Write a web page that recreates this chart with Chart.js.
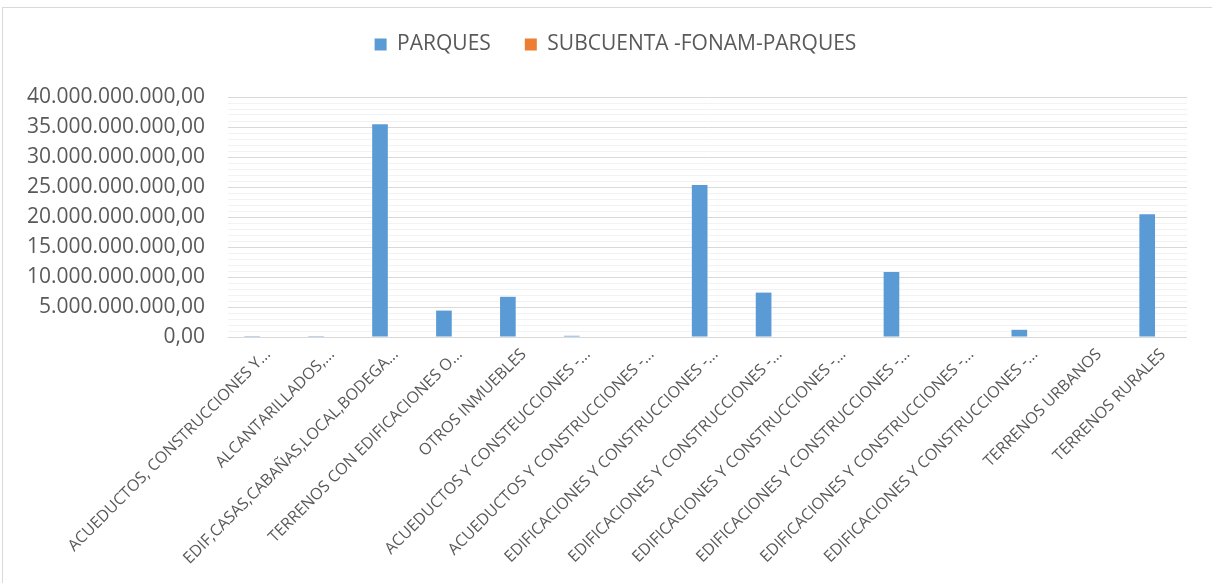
<!DOCTYPE html>
<html lang="es">
<head>
  <meta charset="UTF-8">
  <title>Parques</title>
  <script src="https://cdn.jsdelivr.net/npm/chart.js"></script>
  <style>
    body {
      margin: 0;
      background: #ffffff;
      font-family: 'Open Sans', sans-serif;
    }
    .frame {
      position: absolute;
      left: 2px;
      top: 7px;
      width: 1220px;
      height: 600px;
      border: 1px solid #d9d9d9;
    }
    .chart-box {
      position: absolute;
      left: 0;
      top: 0;
      width: 1212px;
      height: 583px;
    }
  </style>
</head>
<body>
  <div class="frame"></div>
  <div class="chart-box">
    <canvas id="chart"></canvas>
  </div>

  <script>
    const categories = [
      'ACUEDUCTOS, CONSTRUCCIONES Y...',
      'ALCANTARILLADOS,...',
      'EDIF,CASAS,CABAÑAS,LOCAL,BODEGA...',
      'TERRENOS CON EDIFICACIONES O...',
      'OTROS INMUEBLES',
      'ACUEDUCTOS Y CONSTEUCCIONES -...',
      'ACUEDUCTOS Y CONSTRUCCIONES -...',
      'EDIFICACIONES Y CONSTRUCCIONES -...',
      'EDIFICACIONES Y CONSTRUCCIONES -...',
      'EDIFICACIONES Y CONSTRUCCIONES -...',
      'EDIFICACIONES Y CONSTRUCCIONES -...',
      'EDIFICACIONES Y CONSTRUCCIONES -...',
      'EDIFICACIONES Y CONSTRUCCIONES -...',
      'TERRENOS URBANOS',
      'TERRENOS RURALES'
    ];

    const parques = [
      150000000, 150000000, 35450000000, 4400000000, 6700000000,
      200000000, 0, 25330000000, 7400000000, 0,
      10850000000, 0, 1200000000, 0, 20450000000
    ];

    const subcuentaFonam = [0, 0, 0, 0, 0, 0, 0, 0, 0, 0, 0, 0, 0, 0, 0];

    const majorStep = 5000000000;
    const minorStep = 1000000000;
    const yMax = 40000000000;

    // 40000000000 -> "40.000.000.000,00"
    function formatNumber(v) {
      const s = Math.round(v).toString().replace(/\B(?=(\d{3})+(?!\d))/g, '.');
      return s + ',00';
    }

    const textColor = '#595959';

    // fixed legend height so the plot starts where the original does,
    // and nudge the legend a bit to the right
    const legendTweak = {
      id: 'legendTweak',
      beforeInit(chart) {
        const fit = chart.legend.fit;
        chart.legend.fit = function () {
          fit.bind(this)();
          this.height = 97;
        };
      },
      afterLayout(chart) {
        chart.legend.left += 18;
        chart.legend.right += 18;
      }
    };

    new Chart(document.getElementById('chart'), {
      type: 'bar',
      data: {
        labels: categories,
        datasets: [
          {
            label: 'PARQUES',
            data: parques,
            backgroundColor: '#5b9bd5',
            categoryPercentage: 0.49,
            barPercentage: 1
          },
          {
            label: 'SUBCUENTA -FONAM-PARQUES',
            data: subcuentaFonam,
            backgroundColor: '#ed7d31',
            categoryPercentage: 0.49,
            barPercentage: 1
          }
        ]
      },
      plugins: [legendTweak],
      options: {
        responsive: true,
        maintainAspectRatio: false,
        animation: false,
        layout: {
          padding: { left: 8, right: 25, top: 0, bottom: 8 }
        },
        plugins: {
          legend: {
            position: 'top',
            labels: {
              color: textColor,
              font: { family: 'Open Sans', size: 21 },
              boxWidth: 12,
              boxHeight: 12,
              padding: 34
            }
          },
          tooltip: { enabled: false }
        },
        scales: {
          x: {
            grid: { display: false },
            border: { display: false },
            ticks: {
              color: textColor,
              font: { family: 'Open Sans', size: 16 },
              maxRotation: 45,
              minRotation: 45,
              autoSkip: false,
              padding: 0,
              labelOffset: 8
            },
            afterFit: scale => { scale.height = 238; }
          },
          y: {
            min: 0,
            max: yMax,
            border: { display: false },
            grid: {
              drawTicks: false,
              color: ctx => (ctx.tick.value % majorStep === 0 ? '#d9d9d9' : '#f2f2f2'),
              lineWidth: 1
            },
            ticks: {
              stepSize: minorStep,
              autoSkip: false,
              padding: 23,
              color: textColor,
              font: { family: 'Open Sans', size: 21 },
              callback: v => (v % majorStep === 0 ? formatNumber(v) : '')
            },
            afterFit: scale => { scale.width = 220; }
          }
        }
      }
    });
  </script>
</body>
</html>
